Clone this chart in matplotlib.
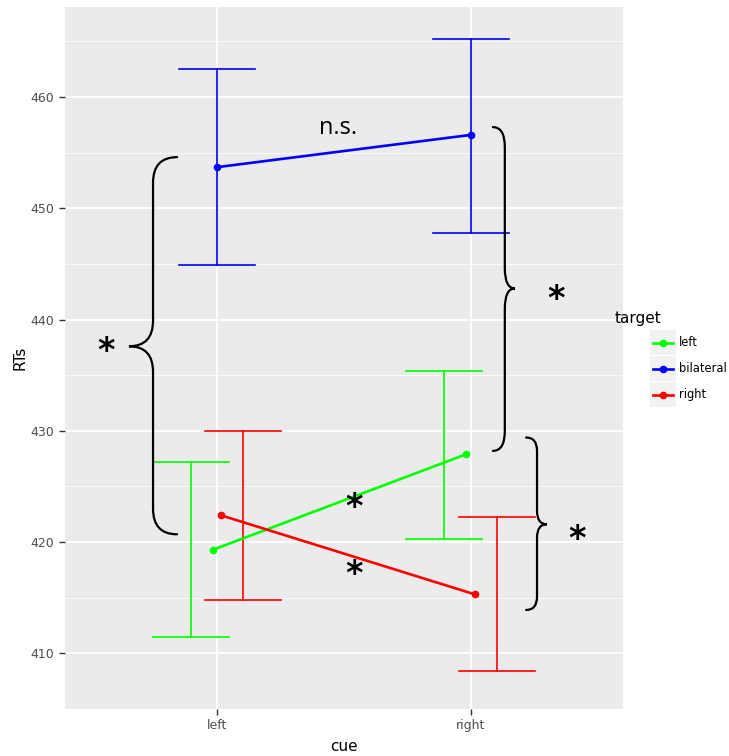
import matplotlib
matplotlib.use("Agg")
import matplotlib.pyplot as plt
from matplotlib.path import Path
from matplotlib.patches import PathPatch, Rectangle
from matplotlib.lines import Line2D

# mean RTs per cue / target, with error bar limits
cues = ["left", "right"]
targets = ["left", "bilateral", "right"]
colors = ["#00FF00", "#0000FF", "#FF0000"]
means = {
    "left": [419.3, 427.9],
    "bilateral": [453.7, 456.6],
    "right": [422.4, 415.3],
}
lower = {
    "left": [411.5, 420.3],
    "bilateral": [444.9, 447.8],
    "right": [414.8, 408.4],
}
upper = {
    "left": [427.2, 435.4],
    "bilateral": [462.5, 465.2],
    "right": [430.0, 422.3],
}
point_dodge = [-0.018, 0.0, 0.016]
bar_dodge = [-0.104, 0.0, 0.102]
cap_w = 0.3

# braces: (x_end, x_vert, x_tip, y_top, y_mid, y_bot, radius)
braces = [
    (0.842, 0.747, 0.652, 454.6, 437.6, 420.7, 2.3),
    (2.087, 2.134, 2.174, 457.3, 442.8, 428.2, 1.8),
    (2.218, 2.261, 2.300, 429.4, 421.6, 413.9, 1.2),
]
stars = [(0.561, 438.0), (2.335, 442.7), (2.42, 421.1), (1.541, 424.0), (1.541, 418.0)]

fig = plt.figure(figsize=(7.29, 7.56), dpi=100)
ax = fig.add_axes([0.0892, 0.0622, 0.7654, 0.9286])
ax.set_facecolor("#EBEBEB")
for s in ax.spines.values():
    s.set_visible(False)

ax.set_xlim(0.4, 2.6)
ax.set_ylim(405.6, 468.1)
ax.set_yticks([410, 420, 430, 440, 450, 460])
ax.set_yticks([405, 415, 425, 435, 445, 455, 465], minor=True)
ax.set_xticks([1, 2])
ax.set_xticklabels(cues)
ax.grid(which="major", color="white", lw=1.3)
ax.grid(which="minor", axis="y", color="white", lw=0.6)
ax.set_axisbelow(True)
ax.tick_params(which="major", colors="#333333", length=4, width=1, labelsize=9,
               labelcolor="#4D4D4D")
ax.tick_params(which="minor", length=0)
ax.set_ylabel("RTs", fontsize=11, color="black", labelpad=2)
ax.set_xlabel("cue", fontsize=11, color="black", labelpad=5)

xs = [1, 2]
for i, t in enumerate(targets):
    c = colors[i]
    for j, x in enumerate(xs):
        bx = x + bar_dodge[i]
        ax.plot([bx, bx], [lower[t][j], upper[t][j]], color=c, lw=1.2, zorder=3)
        ax.plot([bx - cap_w / 2, bx + cap_w / 2], [upper[t][j]] * 2, color=c, lw=1.2, zorder=3)
        ax.plot([bx - cap_w / 2, bx + cap_w / 2], [lower[t][j]] * 2, color=c, lw=1.2, zorder=3)
    px = [x + point_dodge[i] for x in xs]
    ax.plot(px, means[t], color=c, lw=1.9, marker="o", ms=4.5, zorder=4)


def brace(xe, xv, xt, yt, ym, yb, r):
    verts = [(xe, yt), (xv, yt), (xv, yt - r), (xv, ym + r), (xv, ym), (xt, ym),
             (xv, ym), (xv, ym - r), (xv, yb + r), (xv, yb), (xe, yb)]
    codes = [Path.MOVETO, Path.CURVE3, Path.CURVE3, Path.LINETO, Path.CURVE3, Path.CURVE3,
             Path.CURVE3, Path.CURVE3, Path.LINETO, Path.CURVE3, Path.CURVE3]
    ax.add_patch(PathPatch(Path(verts, codes), fill=False, lw=1.6, color="black",
                           zorder=5, capstyle="round"))


for b in braces:
    brace(*b)

# asterisks sit high in their text box, so nudge them down a bit
for sx, sy in stars:
    ax.text(sx, sy - 0.9, "*", fontsize=24, fontweight="bold", ha="center", va="center",
            family="DejaVu Sans", zorder=6)
ax.text(1.478, 457.2, "n.s.", fontsize=17, ha="center", va="center", family="Open Sans")

# legend
fig.text(615 / 729, 1 - 318 / 756, "target", fontsize=11, va="center", ha="left")
for i, t in enumerate(targets):
    y0 = 1 - (355 + i * 26) / 756
    fig.patches.append(Rectangle((650 / 729, y0), 26 / 729, 25 / 756, transform=fig.transFigure,
                                 facecolor="#F2F2F2", edgecolor="none"))
    yc = y0 + 12.5 / 756
    fig.lines.append(Line2D([653 / 729, 673 / 729], [yc, yc], transform=fig.transFigure,
                            color=colors[i], lw=1.9))
    fig.lines.append(Line2D([663 / 729], [yc], transform=fig.transFigure, color=colors[i],
                            marker="o", ms=4.5))
    fig.text(679 / 729, yc, t, fontsize=8.3, va="center", ha="left")

fig.savefig("out.png", dpi=100)
